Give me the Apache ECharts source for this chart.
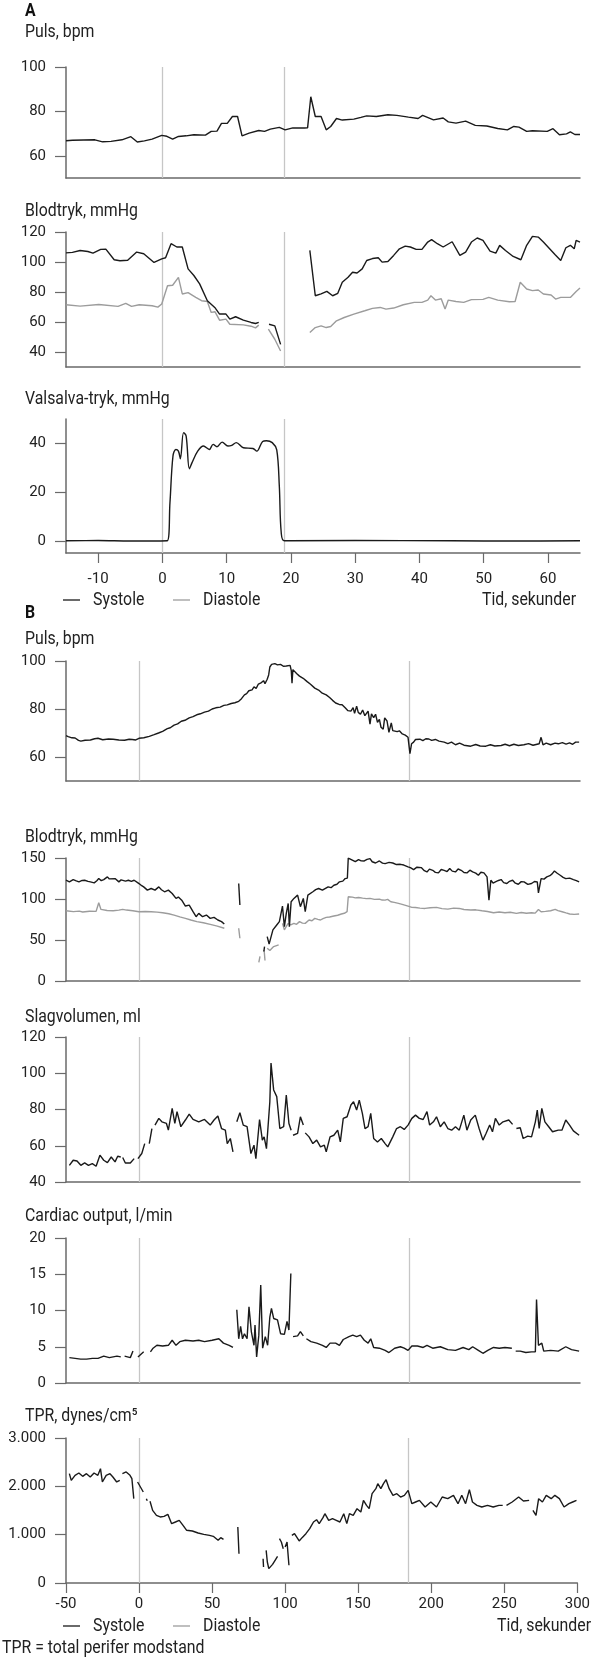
<!DOCTYPE html>
<html><head><meta charset="utf-8">
<script src="https://cdn.jsdelivr.net/npm/echarts@6/dist/echarts.min.js"></script>
<style>html,body{margin:0;padding:0;background:#fff}#c{width:593px;height:1665px}</style>
</head><body><div id="c"></div><script>
// ---------- DATA ----------
const aMarkers = [0, 19];
const bMarkers = [0, 184];
const aXTicks = [-10, 0, 10, 20, 30, 40, 50, 60];
const bXTicks = [-50, 0, 50, 100, 150, 200, 250, 300];
const aPulsTicks = [60, 80, 100];
const aBpTicks = [40, 60, 80, 100, 120];
const aValTicks = [0, 20, 40];
const bPulsTicks = [60, 80, 100];
const bBpTicks = [0, 50, 100, 150];
const bSvTicks = [40, 60, 80, 100, 120];
const bCoTicks = [0, 5, 10, 15, 20];
const bTprTicks = [0, 1000, 2000, 3000];

const aPuls = [[-15,66.8],[-14,67],[-10.5,67.2],[-9.3,66.3],[-8,66.5],[-6.3,67.2],[-4.9,68.6],[-3.9,66.2],[-2.8,66.7],[-1.6,67.5],[-0.1,69.2],[0.7,68.8],[1.6,67.5],[2.5,68.7],[3.7,69],[4.9,69.5],[6.7,69.3],[7.6,71],[8.5,71.1],[9.2,74.6],[10.1,74.6],[10.9,77.7],[11.7,77.7],[12.4,69],[13.5,70.2],[15,71.4],[15.9,71],[16.8,72],[18.2,72.8],[19.1,71.7],[20.3,72.6],[22.1,72.5],[22.6,72.6],[23.1,86.6],[23.8,77.7],[24.7,77.7],[25.5,71.7],[26.2,73.2],[27.1,76.8],[28,76.1],[29.8,76.5],[30.9,77.3],[31.8,78],[33.3,77.7],[35.1,78.5],[36.5,78.2],[38.3,77.4],[39.8,76.8],[40.5,78.2],[42.2,76.2],[43.7,77],[44.5,75.3],[45.7,74.7],[47.2,75.6],[48.7,73.7],[50.5,73.4],[52.2,72.3],[53.7,71.7],[54.7,73.2],[55.5,72.9],[56.7,71],[57.6,71.3],[59.9,71],[60.8,72.2],[61.8,69.5],[62.9,69.9],[63.5,70.8],[64.2,69.6],[65,69.6]];

const aBpSys = [[-15,106.1],[-14,106.4],[-12.8,107.7],[-11.6,107],[-10.8,105.9],[-9.6,108.4],[-8.8,108.6],[-7.5,101.5],[-6.6,100.8],[-5.4,101.2],[-4,106.6],[-2.9,105.5],[-1.3,99.7],[-0.1,102.1],[0.5,102.8],[1.35,112.2],[2.25,110],[3.1,110],[4,95.4],[4.9,91],[5.8,85.4],[7,74.2],[8.15,69.7],[8.9,65.3],[9.9,65.3],[10.5,61.9],[11.4,63.5],[12.6,61.2],[13.8,59.7],[14.5,59],[15,59.7],null,[16.6,58.5],[17.5,57.4],[18.4,45.1],null,[22.95,107.7],[23.8,77.5],[24.7,78.7],[25.6,80.4],[26.5,77.5],[27.3,79.1],[28,86.5],[28.9,89.8],[29.6,93.2],[30.3,92.7],[31.1,95.4],[31.8,101],[32.7,102.3],[33.6,102.8],[34.2,99.9],[35.1,100.3],[36,104.4],[36.9,108.8],[37.8,110.6],[38.6,110],[39.5,108.4],[40.4,108.4],[41.3,113.3],[41.9,114.9],[42.8,112.2],[43.7,110],[45.1,113.5],[46.3,104.4],[47.2,106.6],[48.1,113.3],[49,116],[49.9,114.4],[51,107.3],[51.9,105.9],[52.5,111.1],[53.4,107.7],[54.6,103.7],[55.8,101.5],[56.7,111.1],[57.6,117.1],[58.5,116.6],[59.3,113.3],[61.1,105],[62,101],[62.8,109.5],[63.5,111.1],[64.1,108.8],[64.4,114.4],[65,113.3]];

const aBpDia = [[-15,71.5],[-12.8,70.6],[-9.9,71.7],[-6.9,70.4],[-5.7,72.4],[-4.8,70.4],[-3.6,71.5],[-1.6,70.8],[-0.7,69.9],[-0.1,72],[0.8,84.2],[1.6,84.5],[2.5,89.8],[3.1,78.7],[4,79.6],[5.2,76.4],[6.1,74.2],[7,73.7],[7.6,66.4],[8.2,66.8],[8.9,61.2],[9.9,61.9],[10.5,58.5],[12.6,58.1],[13.8,57.2],[14.5,56.1],[15,57.9],null,[16.5,55.2],[17.5,48.5],[18.4,40.7],null,[22.95,53],[23.8,56.3],[24.7,57.4],[25.5,56.3],[26.2,57],[27.1,60.8],[28.3,63],[29.8,65.3],[31.5,67.5],[32.7,69.1],[33.9,69.7],[34.8,68.6],[36,69.3],[37.5,71.5],[39.2,73.1],[40.4,73.1],[41.3,74.6],[41.8,77.5],[42.5,74.6],[43.4,75.5],[44,68.6],[44.5,74.6],[45.7,73.7],[46.9,73.1],[48.1,74.9],[49.9,75.1],[50.8,76.4],[52.2,74.6],[54,73.5],[54.9,73.7],[55.7,86.5],[56.7,82],[57.6,80.9],[58.5,81.3],[59.3,78.7],[60.5,78],[61.2,75.3],[62,76.4],[63.5,76.4],[64.4,80.4],[65,82.7]];

const aValsalva = [[-15,0],[-10,0.1],[-5,-0.1],[0.76,0],[1.18,15.6],[1.65,34.8],[2.1,37.5],[2.5,36.8],[2.8,33.7],[3.3,44.4],[3.7,43],[4.2,29.6],[4.6,32],[5.5,36.8],[6.4,38.9],[7.3,37.5],[7.9,39.6],[8.5,38.6],[9.3,40.5],[10.2,38.9],[10.8,39.2],[11.5,40.3],[12.6,38.2],[14.1,37.9],[14.7,36.8],[15.6,40.8],[16.2,41.1],[17.1,40.3],[17.8,37.3],[18.2,22.5],[18.5,3.3],[19,0],[30,0.1],[45,0],[55,-0.1],[65,0]];

const bPuls = [[-50,68.9],[-48.5,68.5],[-47.7,68.2],[-46,68],[-43.8,67.9],[-41.5,66.9],[-39.9,66.6],[-37,67],[-33.4,67.1],[-30.5,67.6],[-28.2,67.8],[-25,67.2],[-21,67.5],[-17.9,67.4],[-14,67.1],[-10.1,67],[-7,67.4],[-4.9,67.3],[-2.5,67.1],[-0.3,67.8],[3,68],[6.7,68.6],[10,69.3],[13,70],[15.8,70.7],[19,71.8],[21,72.2],[23.6,73.3],[26,73.8],[28.5,74.9],[31,75.3],[33.9,76.3],[36.5,76.8],[39,77.6],[41.5,78],[44.3,78.7],[47,79.1],[49.5,80],[52,80.5],[55,80.8],[57.5,81.5],[59.8,81.7],[62.5,82.3],[65,82.6],[67.6,83.2],[69.5,84.3],[71.5,85.9],[73,86.4],[74.5,87.6],[76.7,88],[78,89.2],[79.5,88.6],[81,90.4],[83.1,91],[84.5,91.8],[85.5,90.6],[87,92.4],[88,94.2],[88.8,97.5],[90,98.6],[91,98.2],[92.2,98.9],[94,98.4],[96.1,98.6],[98,97.8],[100,97.9],[101.3,97.5],[102.6,98.2],[103.4,96],[103.9,90.7],[104.5,96.4],[105.2,95.9],[107,94.8],[109,93.7],[111.5,92.8],[114.2,91.4],[116.5,90.3],[119.4,88.7],[122,87.9],[124.5,86.6],[127.2,85.9],[129.5,84.8],[131.5,83.6],[133.6,82.5],[136,81.9],[138,81.8],[140.1,80.5],[142,79.3],[144,79.1],[145.5,80.6],[146.5,78.2],[147.9,81.2],[149,78.6],[150.5,77.8],[152,79.6],[153.5,77.2],[155.7,79.1],[157,73.7],[158,78],[159.5,76.4],[160.8,77.8],[162.1,74.4],[163.4,75.7],[164.5,72.4],[166,71.6],[167,76.3],[168.6,75],[169.9,70.3],[171.5,74.2],[172.5,71],[173.8,71.6],[175.5,70.6],[177,70.9],[179,69.6],[181,69.1],[182.9,68.2],[183.5,67.4],[184.2,61.4],[185.3,65.5],[186.7,66.2],[188,67.3],[189.3,66.8],[191,67.4],[193,66.8],[195,67.6],[197.1,67.5],[199,66.9],[201.5,67.3],[204,66.6],[207.5,66.2],[210,65.6],[212.5,66.2],[215.2,65.1],[218,65.8],[221,64.9],[225.6,64.5],[229,65.2],[232,64.6],[235.9,64.5],[239,65.1],[242,64.6],[246.3,64.8],[249,65.3],[252,64.7],[255,65.3],[258,64.8],[261.8,65.1],[265,65.6],[268,64.9],[272.2,65.5],[273.5,68.2],[274.8,65.1],[277,65.8],[280,65.1],[283,65.8],[285.2,65.5],[288,66],[290.5,65.4],[292.9,65.9],[295,65.3],[297,66.2],[299.4,66.2]];

const bBpSys = [[-50,122.9],[-47.7,120.9],[-45.1,123.7],[-43,122],[-41.2,120.9],[-39,122.6],[-37.3,122.9],[-35,121.5],[-33.4,120.9],[-30.8,119.7],[-29,122.3],[-27.7,124.9],[-26,122.4],[-24.3,123.7],[-21.8,127],[-20.5,124.5],[-19.2,122.9],[-16.6,124.9],[-14,120.9],[-12.5,123.3],[-11.4,124.9],[-9.5,121.8],[-7.5,122.9],[-5.5,121.6],[-3.6,122.9],[-1,119.7],[1,117],[2.9,114.8],[5.4,110.8],[8,112.8],[10.6,110.8],[13.2,114.8],[15,111.3],[17.1,108.8],[19.7,110.8],[22.3,106.7],[24.9,100.7],[26.5,102.4],[28.8,98.6],[31.3,91.4],[33.9,92.6],[36.5,84.5],[38.6,78.4],[40.4,82.5],[43,78.4],[45.6,80.4],[48.2,76.4],[50.8,77.6],[53.4,74.4],[55.9,72.4],[57.8,69.5],null,[67.6,118.9],[68.4,92.6],null,[84.7,36],[85.2,42],null,[87,54.2],[88.3,44.9],[90.9,62.3],[93.5,68.3],[95.3,72.4],[96.2,70],[97.4,91.4],[98.7,66.3],[100,82.5],[101.3,94.6],[102.1,66.3],[103.3,96.6],[105.2,100.7],[107.7,104.7],[109.6,90.6],[111.6,100.7],[112.9,84.5],[114.7,104.7],[118.1,108.8],[120,111.4],[122,112.8],[124.6,110.8],[128.5,114.8],[130.5,113.8],[132.4,116.8],[134.5,118],[136.2,120.9],[138.5,121.8],[140.1,124.9],[141.6,125.5],[142.2,150],[145.3,147.2],[147,145.6],[149.2,148],[151,146.5],[153.1,146.4],[155,148.3],[157,149.2],[158.5,145.4],[160.8,143.9],[163.4,146.4],[165.5,143.8],[167.3,143.1],[170,144.6],[172.5,143.9],[175,142],[177.7,142.3],[180,141.4],[182.9,139.1],[184.5,138.2],[186.7,135.8],[189,138.8],[191.9,138.3],[194,134.6],[195.8,133],[197.5,136.4],[199.7,135],[201.5,132.5],[203.6,131.8],[205.5,136],[207.5,135],[209.5,133.5],[211.3,137.1],[213,134],[215.2,133],[217,136.6],[219.1,135],[221,132.3],[223,131.8],[225,135.2],[226.9,133],[229,131.5],[230.8,129],[232.5,132.6],[234.6,131.8],[236.7,127],[238,98.6],[239.3,122.9],[240.8,119.5],[242.4,120.9],[244.5,122.6],[246.3,123.7],[248,120],[250.2,118.9],[252,121.6],[254.1,122.9],[256,119.3],[258,118],[260,121.2],[261.9,120.9],[264.5,117.8],[267,118.9],[269,121.3],[270.9,120.9],[271.7,107.5],[273.5,124.9],[275.5,124.2],[277.4,127],[279.5,128.4],[281,130.6],[282.6,134.2],[284.5,131.4],[286.5,129],[288.5,126.4],[290.3,124.9],[293,125.5],[295.5,123.7],[297.5,122.5],[299.4,120.9]];

const bBpDia = [[-50,85.7],[-45,84.6],[-41,85.2],[-38.6,84.1],[-34,85],[-29.5,84.9],[-27.7,95.4],[-26.2,87.3],[-22,86],[-17.9,85.7],[-14,86.4],[-11.4,87.3],[-10.1,89.7],[-8.8,86.5],[-4.5,85.6],[-0.3,84.5],[4,84.8],[8,84.5],[12,84],[15.8,83.3],[20,82],[23.6,80.4],[27.5,78.2],[31.3,76.4],[35,74.4],[39.1,72.4],[43.5,71],[48.2,69.1],[53,67],[57.8,64.3],null,[67.6,64.3],[68.4,52.1],null,[81.3,22.6],[82.1,29.9],null,[84.9,38],[85.5,25],null,[87,40],[88.8,37.2],[91.4,42],[94.8,44],null,[97.4,70.3],[98.7,62.3],[100,66.5],[101.3,70.3],[103,68.5],[105.2,70.3],[107,69.1],[109,72.4],[111,70.6],[112.9,70.3],[115.5,74.4],[117.5,73.5],[119.4,76.4],[121.5,75.2],[123.3,74.4],[125,76.1],[127.2,77.6],[129.5,78],[132.4,79.2],[135,80.2],[137.5,81.7],[139.5,82.6],[141.4,84.5],[142.2,102.7],[145,102.3],[147,101.4],[149.2,101.9],[152,101.1],[154.5,100.4],[157,100.7],[160,99.6],[163.4,99.9],[165.3,98.7],[167.3,98.6],[169,99.6],[171.2,96.6],[173.5,95.9],[176.4,94.6],[179.5,93.2],[182.9,91.4],[185.5,89.8],[188,89.6],[191,88.9],[194.5,88.5],[198,89.3],[202.3,89.8],[206,88.3],[210,87.7],[214,88.9],[217.8,88.5],[221,87.2],[225.6,86.5],[229,86.8],[233.3,85.7],[237,84.8],[241.1,83.3],[245,84.1],[248.9,83.3],[252.5,83.9],[256.7,82.5],[260,83.6],[263.5,82.7],[267,83.3],[269.5,82.8],[271.7,87.3],[273.5,84.5],[276.5,84.9],[280,85.7],[283.1,87.3],[285,85.8],[287.8,84.5],[290.5,83],[293,81.7],[296,81.2],[299.4,81.7]];

const bSv = [[-47.7,49.2],[-45.1,52],[-42.5,51.6],[-39.9,49.2],[-37.3,50.5],[-34.7,49.2],[-32.1,50.1],[-29.5,48.7],[-26.9,54.8],[-24.3,52],[-21.8,50.7],[-19.2,53.8],[-16.6,51.1],[-14.8,54.2],[-12.7,53.8],null,[-11.4,53.5],[-9.6,50.5],[-6.2,50.5],[-3.6,52.9],null,[-1,52.9],[1.6,55.7],[3.6,61.2],null,[6.7,61.2],[8.5,69.5],null,[10.6,71.4],[13.2,75.1],[15.3,73.2],[18.4,72.3],[19.7,68.6],[22.3,80.6],[24.1,72.3],[25.6,78.8],[28.2,70.5],[31.3,74.2],[33.9,77.5],[36.5,74.5],[40.4,73.2],[44.3,74.5],[48.2,71.4],[50.8,74.2],[53.4,76.4],[55.9,69.5],[58.5,68.6],[59.8,61.2],[61.9,64],[63.7,56.6],null,[66.3,73.2],[68.4,78.2],[70.7,71.4],[73.3,70.5],[75.9,55.7],[78,60.3],[79.3,52.9],[81.8,74.5],[83.7,63.1],[84.9,64.9],[86.5,58.4],[88.8,84.3],[89.6,105.6],[91.4,90.8],[93.5,87.1],[95.6,69.5],[98.2,70.5],[100,88],[101.8,72.3],[103.3,68.6],null,[104.6,65.8],[107.7,66.8],[109.6,76],[111.6,71.4],null,[112.9,67.1],[115.5,64.9],[118.1,61.2],[120.7,63.1],[123.3,59.4],[125.9,60.3],[127.2,56.6],[129.8,64.9],[132.4,65.8],[135,68.6],[136.8,62.1],[138.8,75.1],[141.4,76],[144,82.5],[145.8,84.3],[147.9,79.7],[149.7,85.2],[151.8,77.9],[153.6,69.5],[155.7,70.5],[157.5,77.9],[159.5,64],[162.1,62.1],[164.7,64],[167.3,61.2],[169.1,59.4],[172.5,64.9],[175.1,69.5],[177.7,70.5],[180.3,69],[182.9,71.4],[185.5,75.1],[188,76.9],[190.6,75.1],[193.2,74.5],[195.8,78.8],[197.6,71.4],[200.2,73.2],[202.3,76],[204.9,70.5],[207.5,73.2],[210,69.5],[212.6,68.6],[215.2,70.5],[217.8,68.6],[220.9,76.9],[223,68.6],[225.6,74.2],[228.7,76.9],[231.3,69.5],[233.9,63.1],[236,66.8],[238.5,71.4],[240.4,67.7],[242.4,75.1],[245,71.4],[247.6,73.2],[251.5,74.2],[254.1,71.8],null,[256.7,69.5],[259.3,69.9],[261.3,64],[264.4,65.3],[267,64.9],[269.6,73.2],[270.9,79.7],[272.2,69.5],[274,80.6],[276.1,73.2],[278.7,70.5],[281.3,67.7],[285.2,68.6],[287.7,68.6],[290.3,74.2],[292.9,71.4],[295.5,68.2],[299.4,65.8]];

const bCo = [[-47.7,3.5],[-43.8,3.4],[-40,3.3],[-36,3.3],[-32,3.4],[-28.2,3.4],[-24.3,3.7],[-20.5,3.5],[-15.3,3.7],[-12.7,3.6],null,[-10.1,3.7],[-6.2,3.5],[-4.9,3.5],[-4.4,4.4],null,[-1,3.6],[2.9,4.3],null,[7.5,4.3],[9.3,4.8],[11.9,5.2],[15.8,5.1],[19.7,5.2],[22.3,5.9],[24.9,5.2],[27.5,5.7],[31.3,5.9],[36.5,5.8],[40.4,5.9],[44.3,5.7],[49.5,5.9],[54.1,6.1],[57.2,5.5],[61.1,5.2],[63.7,4.9],null,[66.3,10.1],[67.6,6.1],[68.9,7.8],[70.2,6.1],[71.5,6.8],[73.3,6.1],[74.6,10.5],[76.2,7.1],[78,5.2],[78.7,8],[79.8,3.6],[81.3,6.6],[82.6,13.5],[83.9,4.8],[85.7,6.4],[87.3,5.2],[88.8,9.1],[89.9,10.3],[91.4,8.9],[94,8.7],[96.1,6.8],[98.7,6.7],[100.5,8.5],[101.8,7.3],[102.6,7.3],[103.1,15.1],null,[104.6,6.4],[107.7,6.5],[109.6,7.1],[111.6,6.5],null,[113.7,6.1],[116.8,5.7],[120.7,5.5],[124.6,5.2],[127.2,4.9],[129.8,5.5],[133.6,5.5],[136.2,5.2],[138.8,6],[142.7,6.4],[145.3,6.6],[147.9,6.4],[150.5,6.6],[153.1,5.9],[155.7,5.5],[157.5,6.1],[159.5,4.9],[163.4,4.8],[167.3,4.5],[169.9,4.2],[173.8,4.8],[177.7,5],[180.3,4.8],[182.9,4.5],[185.5,5.1],[189.3,5.1],[193.2,4.9],[195.8,5.2],[199.7,4.8],[204.9,5],[210,4.6],[215.2,4.5],[220.4,4.9],[224.3,4.6],[226.9,5],[230.8,4.5],[233.9,4.1],[237.2,4.5],[241.1,4.9],[245,4.8],[248.9,4.9],[253.6,4.8],null,[256.2,4.4],[259.3,4.4],[263.1,4.2],[267,4.3],[269.6,4.3],[270.4,11.5],[271.7,5.2],[274,5.5],[275.3,4.4],[280,4.5],[285.2,4.4],[290.3,5],[294.2,4.6],[299.4,4.4]];

const bTpr = [[-47.7,2262],[-46.4,2124],[-43.8,2228],[-41.2,2276],[-38.6,2207],[-36,2262],[-33.4,2193],[-30.8,2276],[-28.2,2228],[-26.4,2366],[-25.1,2090],[-22.5,2228],[-19.9,2262],[-17.9,2193],[-15.3,2090],[-13.2,2124],null,[-11.4,2262],[-8.8,2297],[-6.2,2228],[-4.9,2159],[-3.6,1745],null,[-1,2090],[0.3,2055],[2.9,1883],null,[5,1745],[5.6,1700],null,[7.5,1690],[9.3,1503],[11.9,1400],[14.5,1366],[17.1,1379],[19.7,1421],[22.3,1228],[24.9,1262],[27.5,1297],[30.1,1193],[32.6,1090],[36.5,1076],[40.4,1034],[44.3,1007],[48.2,986],[50.8,966],[54.1,883],[55.9,938],[57.8,903],null,[67.6,1159],[68.4,607],null,[84.9,503],[85.2,331],null,[87,676],[87.8,434],[88.8,297],[91.4,386],[94.8,552],null,[96.1,917],[97.4,848],[98.7,710],null,[100,745],[101.3,848],[102.6,366],null,[104.6,986],[106.4,1021],[107.7,1034],[109.6,869],[111.6,938],[114.2,1021],[116.8,1124],[119.4,1262],[121.5,1310],[123.3,1228],[125.9,1352],[127.2,1434],[129.8,1297],[132.4,1331],[135,1297],[137.5,1262],[140.1,1434],[142.2,1228],[144,1434],[146.6,1400],[149.2,1538],[151.8,1469],[153.6,1710],[155.7,1607],[157.5,1538],[159.5,1848],[162.1,1952],[163.4,2055],[165.5,1952],[167.3,2055],[169.1,2138],[171.2,1952],[173.8,1814],[176.4,1848],[179,1779],[181.6,1814],[184.2,1917],[186.7,1641],[189.3,1676],[191.9,1710],[195.8,1572],[199.7,1676],[203.6,1572],[207.5,1779],[211.3,1745],[215.2,1814],[218.3,1641],[220.9,1814],[223.5,1641],[226.1,1931],[228.2,1676],[231.3,1607],[234.6,1572],[238.5,1607],[242.4,1572],[246.3,1607],[248.9,1607],null,[251.5,1607],[255.4,1676],[259.8,1779],[263.1,1697],[267,1710],null,[269.6,1503],[271.7,1400],[273.5,1745],[276.1,1676],[278.7,1814],[282.1,1745],[284.6,1814],[287.7,1745],[290.9,1572],[294.2,1641],[296.8,1676],[299.4,1710]];

const titles = ['Puls, bpm','Blodtryk, mmHg','Valsalva-tryk, mmHg','Puls, bpm','Blodtryk, mmHg','Slagvolumen, ml','Cardiac output, l/min','TPR, dynes/cm\u2075'];
const legendNames = ['Systole','Diastole'];
const xAxisName = 'Tid, sekunder';
const footnote = 'TPR = total perifer modstand';

// ---------- LAYOUT ----------
const FONT = 'Roboto,"Liberation Sans",sans-serif';
const INK = '#1a1a1a', GREY = '#9c9c9c', AX = '#6a6a6a', MARK = '#c6c6c6';
const SX = 0.88; // horizontal condensing of free text
const L = 66, W = 514;
const panels = [
  {top:67,  h:111, min:50, max:100, xmin:-15, xmax:65, ticks:aPulsTicks, marks:aMarkers, series:[aPuls], title:32},
  {top:232, h:135, min:30, max:120, xmin:-15, xmax:65, ticks:aBpTicks, marks:aMarkers, series:[aBpSys, aBpDia], title:211},
  {top:419, h:134, min:-5, max:50, xmin:-15, xmax:65, ticks:aValTicks, marks:aMarkers, series:[aValsalva], title:399, xt:aXTicks, lm:19, smooth:true},
  {top:661, h:120, min:50, max:100, xmin:-50, xmax:300, ticks:bPulsTicks, marks:bMarkers, series:[bPuls], title:639},
  {top:858, h:123, min:0, max:150, xmin:-50, xmax:300, ticks:bBpTicks, marks:bMarkers, series:[bBpSys, bBpDia], title:837},
  {top:1037,h:145, min:40, max:120, xmin:-50, xmax:300, ticks:bSvTicks, marks:bMarkers, series:[bSv], title:1017},
  {top:1238,h:145, min:0, max:20, xmin:-50, xmax:300, ticks:bCoTicks, marks:bMarkers, series:[bCo], title:1216},
  {top:1438,h:145, min:0, max:3000, xmin:-50, xmax:300, ticks:bTprTicks, marks:bMarkers, series:[bTpr], title:1416, xt:bXTicks, lm:14, thousands:true}
];

const fmtThousands = v => v >= 1000 ? (Math.floor(v/1000) + '.' + String(v % 1000).padStart(3,'0')) : String(v);
const prep = arr => arr.map(p => p === null ? ['-','-'] : p);
const txt = (x, y, text, opt) => ({type:'text', x, y, scaleX:SX, style:Object.assign({text, font:'18px ' + FONT, fill:'#222', textVerticalAlign:'middle'}, opt || {})});

const grid = [], xAxis = [], yAxis = [], series = [], graphic = [];
panels.forEach((p, i) => {
  grid.push({left:L, width:W, top:p.top, height:p.h});
  xAxis.push({
    gridIndex:i, type:'value', min:p.xmin, max:p.xmax,
    axisLine:{show:true, onZero:false, lineStyle:{color:AX, width:1.5}},
    axisTick:{show:!!p.xt, length:10, customValues:p.xt || [], lineStyle:{color:AX, width:1.2}},
    axisLabel:{show:!!p.xt, customValues:p.xt || [], margin:p.lm || 12, fontSize:15, color:'#222', fontFamily:FONT},
    splitLine:{show:false}
  });
  yAxis.push({
    gridIndex:i, type:'value', min:p.min, max:p.max,
    axisLine:{show:true, onZero:false, lineStyle:{color:AX, width:1.5}},
    axisTick:{show:true, length:11, customValues:p.ticks, lineStyle:{color:AX, width:1.2}},
    axisLabel:{customValues:p.ticks, margin:20, fontSize:15, color:'#222', fontFamily:FONT,
      formatter: p.thousands ? fmtThousands : (v => String(v))},
    splitLine:{show:false}
  });
  p.series.forEach((d, k) => {
    const s = {
      type:'line', xAxisIndex:i, yAxisIndex:i, data:prep(d), showSymbol:false, symbol:'none',
      connectNulls:false, smooth: p.smooth ? 0.35 : false, animation:false, silent:true, z: 5 - k,
      lineStyle:{color: k === 0 ? INK : GREY, width:1.4}
    };
    if (k === 0) {
      s.markLine = {silent:true, symbol:'none', animation:false, label:{show:false}, z:1,
        lineStyle:{color:MARK, width:1.3, type:'solid'}, data:p.marks.map(v => ({xAxis:v}))};
    }
    series.push(s);
  });
  graphic.push(txt(25, p.title, titles[i]));
});

// panel letters
graphic.push(txt(25, 11, 'A', {font:'bold 18px ' + FONT, fill:'#111'}));
graphic.push(txt(25, 613, 'B', {font:'bold 18px ' + FONT, fill:'#111'}));

// legends
function legendAt(y, tidRight) {
  graphic.push({type:'line', shape:{x1:63, y1:y, x2:80, y2:y}, style:{stroke:INK, lineWidth:1.3}});
  graphic.push(txt(93, y, legendNames[0]));
  graphic.push({type:'line', shape:{x1:173, y1:y, x2:190, y2:y}, style:{stroke:GREY, lineWidth:1.3}});
  graphic.push(txt(203, y, legendNames[1]));
  graphic.push(txt(tidRight, y, xAxisName, {textAlign:'right'}));
}
legendAt(600, 576);
legendAt(1626, 591);
graphic.push(txt(2, 1648, footnote));

const chart = echarts.init(document.getElementById('c'), null, {renderer:'canvas'});
chart.setOption({animation:false, grid, xAxis, yAxis, series, graphic});
</script></body></html>
